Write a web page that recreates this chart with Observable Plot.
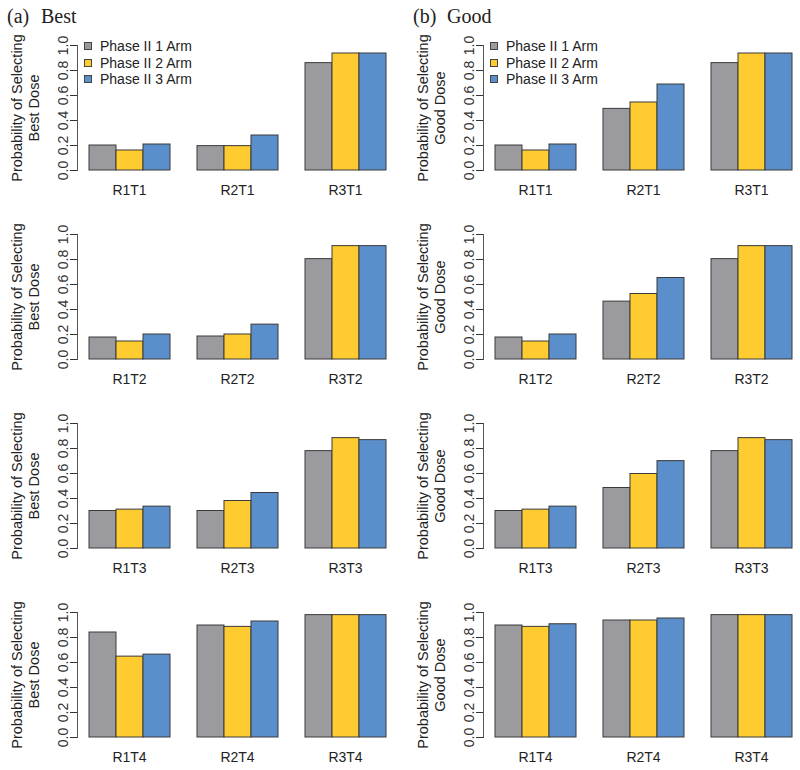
<!DOCTYPE html>
<html>
<head>
<meta charset="utf-8">
<script src="https://cdn.jsdelivr.net/npm/d3@7"></script>
<script src="https://cdn.jsdelivr.net/npm/@observablehq/plot@0.6"></script>
<style>
  html, body { margin: 0; padding: 0; background: #fff; }
  body { width: 800px; height: 770px; overflow: hidden; position: relative; }
  #root { position: relative; width: 800px; height: 770px; overflow: hidden; }
  .panel { position: absolute; width: 400px; height: 189px; }
  .panel svg { max-width: none !important; width: 400px; height: 189px; }
  .title { position: absolute; font-family: "Liberation Serif", "Times New Roman", serif; font-size: 20px; color: #222; line-height: 1; white-space: pre; z-index: 3; }
  .legend { position: absolute; z-index: 3; font-family: "Liberation Sans", Arial, sans-serif; font-size: 14px; color: #222; }
  .legend .row { display: flex; align-items: center; height: 16.5px; }
  .legend .sw { width: 6px; height: 6px; border: 1px solid #444; display: inline-block; }
  .legend .lab { margin-left: 8px; }
</style>
</head>
<body>
<div id="root"></div>
<script>
// ---- data ----
const series = ["Phase II 1 Arm", "Phase II 2 Arm", "Phase II 3 Arm"];
const colors = ["#9b9b9f", "#fecb30", "#5b8fcb"];
const yTicks = [0, 0.2, 0.4, 0.6, 0.8, 1.0];

const catsT1 = ["R1T1", "R2T1", "R3T1"];
const catsT2 = ["R1T2", "R2T2", "R3T2"];
const catsT3 = ["R1T3", "R2T3", "R3T3"];
const catsT4 = ["R1T4", "R2T4", "R3T4"];

// values: [R1: 1arm,2arm,3arm, R2: ..., R3: ...]
const bestT1 = [0.200, 0.160, 0.208, 0.195, 0.195, 0.280, 0.859, 0.936, 0.936];
const bestT2 = [0.176, 0.144, 0.200, 0.184, 0.200, 0.279, 0.803, 0.907, 0.907];
const bestT3 = [0.300, 0.311, 0.335, 0.300, 0.380, 0.444, 0.779, 0.883, 0.867];
const bestT4 = [0.840, 0.647, 0.663, 0.896, 0.885, 0.928, 0.979, 0.979, 0.979];

const goodT1 = [0.200, 0.160, 0.208, 0.493, 0.544, 0.688, 0.859, 0.936, 0.936];
const goodT2 = [0.176, 0.144, 0.200, 0.463, 0.524, 0.652, 0.803, 0.907, 0.907];
const goodT3 = [0.300, 0.311, 0.335, 0.484, 0.596, 0.699, 0.779, 0.883, 0.867];
const goodT4 = [0.896, 0.885, 0.906, 0.936, 0.936, 0.952, 0.979, 0.979, 0.979];

const titles = [["(a)", "Best"], ["(b)", "Good"]];
const yLabels = ["Probability of Selecting\nBest Dose", "Probability of Selecting\nGood Dose"];

const cats = [catsT1, catsT2, catsT3, catsT4];
const valueCols = [[bestT1, bestT2, bestT3, bestT4], [goodT1, goodT2, goodT3, goodT4]];

// ---- layout ----
const root = document.getElementById("root");
const colLeft = [0, 406];
const rowStep = 189;
const topOffset = 10;

function table(groups, values) {
  return groups.flatMap((g, i) => series.map((s, j) => ({group: g, series: s, value: values[i * series.length + j]})));
}

for (let c = 0; c < 2; c++) {
  for (let r = 0; r < 4; r++) {
    const data = table(cats[r], valueCols[c][r]);
    const chart = Plot.plot({
      width: 400,
      height: 189,
      marginLeft: 76,
      marginRight: 2,
      marginTop: 35,
      marginBottom: 29,
      style: {fontFamily: "'Liberation Sans', Arial, sans-serif", fontSize: "14px", color: "#222", background: "transparent", overflow: "visible"},
      fx: {domain: cats[r], paddingInner: 0.0404, paddingOuter: 0, label: null},
      x: {domain: series, padding: 0, axis: null, inset: 11.4},
      y: {domain: [0, 1]},
      color: {domain: series, range: colors},
      marks: [
        Plot.barY(data, {fx: "group", x: "series", y: "value", fill: "series", stroke: "#3a3a3a", strokeWidth: 1}),
        Plot.frame({anchor: "left", facetAnchor: "left", stroke: "#555"}),
        Plot.axisY({ticks: yTicks, tickFormat: d => d.toFixed(1), tickRotate: -90, tickSize: 7, tickPadding: 3, fontSize: 14, color: "#333", label: null}),
        Plot.axisFx({anchor: "bottom", tickSize: 0, tickPadding: 15, fontSize: 14, color: "#222", label: null}),
        Plot.text([yLabels[c]], {frameAnchor: "left", facetAnchor: "left", rotate: -90, dx: -52.5, lineAnchor: "middle", textAnchor: "middle", lineHeight: 1.17, fontSize: 14.5, fill: "#222"})
      ]
    });
    const div = document.createElement("div");
    div.className = "panel";
    div.style.left = colLeft[c] + "px";
    div.style.top = (topOffset + r * rowStep) + "px";
    div.appendChild(chart);
    root.appendChild(div);
  }
  // title
  const t1 = document.createElement("div");
  t1.className = "title";
  t1.textContent = titles[c][0];
  t1.style.left = (colLeft[c] + 7) + "px";
  t1.style.top = "6px";
  root.appendChild(t1);
  const t2 = document.createElement("div");
  t2.className = "title";
  t2.textContent = titles[c][1];
  t2.style.left = (colLeft[c] + 41) + "px";
  t2.style.top = "6px";
  root.appendChild(t2);
  // legend
  const lg = document.createElement("div");
  lg.className = "legend";
  lg.style.left = (colLeft[c] + 84) + "px";
  lg.style.top = "38px";
  series.forEach((s, i) => {
    const row = document.createElement("div");
    row.className = "row";
    const sw = document.createElement("span");
    sw.className = "sw";
    sw.style.background = colors[i];
    const lab = document.createElement("span");
    lab.className = "lab";
    lab.textContent = s;
    row.appendChild(sw);
    row.appendChild(lab);
    lg.appendChild(row);
  });
  root.appendChild(lg);
}
</script>
</body>
</html>
